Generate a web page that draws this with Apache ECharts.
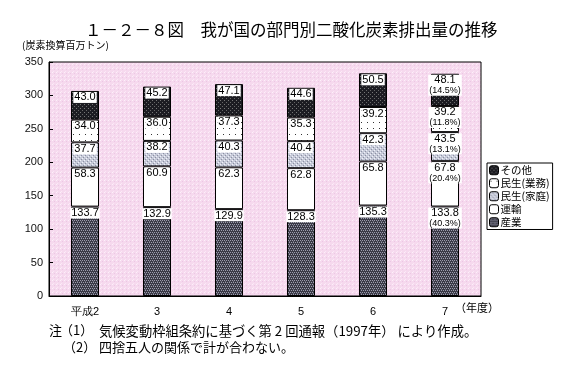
<!DOCTYPE html>
<html>
<head>
<meta charset="utf-8">
<script src="https://cdn.jsdelivr.net/npm/echarts@6/dist/echarts.min.js"></script>
<style>
  html, body { margin: 0; padding: 0; background: #fff; }
  #main { width: 570px; height: 378px; }
</style>
</head>
<body>
<div id="main"></div>
<script>
// 年度
const years = ['平成2', '3', '4', '5', '6', '7'];
// 部門別排出量（炭素換算百万トン）
const sangyo = [133.7, 132.9, 129.9, 128.3, 135.3, 133.8];
const unyu = [58.3, 60.9, 62.3, 62.8, 65.8, 67.8];
const minseiKatei = [37.7, 38.2, 40.3, 40.4, 42.3, 43.5];
const minseiGyomu = [34.0, 36.0, 37.3, 35.3, 39.2, 39.2];
const sonota = [43.0, 45.2, 47.1, 44.6, 50.5, 48.1];
// 平成7年度の構成比（%）
const share7 = {
  '産業': 40.3,
  '運輸': 20.4,
  '民生(家庭)': 13.1,
  '民生(業務)': 11.8,
  'その他': 14.5
};
const yTicks = [0, 50, 100, 150, 200, 250, 300, 350];

function makePattern(size, bg, dots) {
  let c = document.createElement('canvas');
  c.width = size; c.height = size;
  let ctx = c.getContext('2d');
  ctx.fillStyle = bg;
  ctx.fillRect(0, 0, size, size);
  dots.forEach(d => {
    ctx.fillStyle = d[2];
    ctx.fillRect(d[0], d[1], 1, 1);
  });
  return { image: c, repeat: 'repeat' };
}

const pSangyo = makePattern(4, '#3a3a46', [
  [0, 0, '#9c9cae'], [2, 0, '#9c9cae'], [1, 2, '#9c9cae'], [3, 2, '#9c9cae'], [1, 1, '#6a6a7a']
]);
const pSonota = makePattern(4, '#1c1c22', [[0, 0, '#777'], [2, 2, '#666']]);
const pKatei = makePattern(4, '#c6cad8', [
  [0, 0, '#f2f2fa'], [2, 2, '#f2f2fa'], [1, 3, '#8d90a4'], [3, 1, '#8d90a4']
]);
const pGyomu = makePattern(6, '#ffffff', [[1, 2, '#333']]);
const bg = makePattern(4, '#f6d9ee', [[0, 0, '#fdf0fa'], [2, 1, '#ecc8e4'], [1, 3, '#fbe8f6']]);

let chartDom = document.getElementById('main');
let myChart = echarts.init(chartDom);
let option;

const font = '"Liberation Sans", Arial, sans-serif';
const jp = '"Noto Sans CJK JP", sans-serif';

function mkSeries(name, data, color) {
  return {
    name: name,
    type: 'bar',
    stack: 'total',
    barWidth: 28,
    data: data,
    itemStyle: { color: color, borderColor: '#000', borderWidth: 1 },
    label: {
      show: true,
      position: 'insideTop',
      distance: 1,
      color: '#000',
      fontSize: 11,
      fontFamily: font,
      backgroundColor: '#fff',
      padding: [0, 1, 0, 1],
      lineHeight: 11,
      formatter: function (p) {
        let v = p.value.toFixed(1);
        if (p.dataIndex === 5) {
          return v + '\n{p|(' + share7[name].toFixed(1) + '%)}';
        }
        return v;
      },
      rich: { p: { fontSize: 9, lineHeight: 10, fontFamily: font, color: '#000' } }
    }
  };
}

function txt(x, y, s, size) {
  return { type: 'text', left: x, top: y, style: { text: s, font: size + 'px ' + jp, fill: '#000' } };
}

option = {
  animation: false,
  backgroundColor: '#fff',
  grid: {
    left: 49, right: 89, top: 62, bottom: 82,
    show: true,
    backgroundColor: bg,
    borderColor: '#000',
    borderWidth: 1
  },
  legend: {
    orient: 'vertical',
    left: 487,
    top: 163,
    itemWidth: 9,
    itemHeight: 9,
    itemGap: 2.5,
    padding: [2, 3, 2, 2],
    borderColor: '#000',
    borderWidth: 1,
    backgroundColor: '#fff',
    textStyle: { fontFamily: jp, fontSize: 10.5, lineHeight: 10, color: '#000', padding: [0, 0, 0, -3] },
    itemStyle: { borderColor: '#000', borderWidth: 1 },
    data: ['その他', '民生(業務)', '民生(家庭)', '運輸', '産業']
  },
  xAxis: {
    type: 'category',
    data: years,
    axisLine: { lineStyle: { color: '#000', width: 1 } },
    axisTick: { inside: true, length: 4, lineStyle: { color: '#000' } },
    axisLabel: { color: '#000', fontSize: 11, fontFamily: font, margin: 10 }
  },
  yAxis: {
    type: 'value',
    min: yTicks[0],
    max: yTicks[yTicks.length - 1],
    interval: 50,
    splitLine: { show: false },
    axisLine: { show: true, lineStyle: { color: '#000', width: 1 } },
    axisTick: { show: true, inside: true, length: 4, lineStyle: { color: '#000' } },
    axisLabel: { color: '#111', fontSize: 11, fontFamily: font, margin: 6 }
  },
  graphic: [
    txt(85, 21, '１－２－８図　我が国の部門別二酸化炭素排出量の推移', 16.5),
    txt(22, 40, '(炭素換算百万トン)', 10),
    txt(455, 302, '（年度）', 11),
    txt(49, 324, '注', 13),
    txt(60, 324, '（1）', 13),
    txt(99, 324, '気候変動枠組条約に基づく第 2 回通報（1997年） により作成。', 13.3),
    txt(63, 341, '（2）', 13),
    txt(99, 341, '四捨五人の関係で計が合わない。', 13)
  ],
  series: [
    mkSeries('産業', sangyo, pSangyo),
    mkSeries('運輸', unyu, '#ffffff'),
    mkSeries('民生(家庭)', minseiKatei, pKatei),
    mkSeries('民生(業務)', minseiGyomu, pGyomu),
    mkSeries('その他', sonota, pSonota)
  ]
};

option && myChart.setOption(option);
</script>
</body>
</html>
